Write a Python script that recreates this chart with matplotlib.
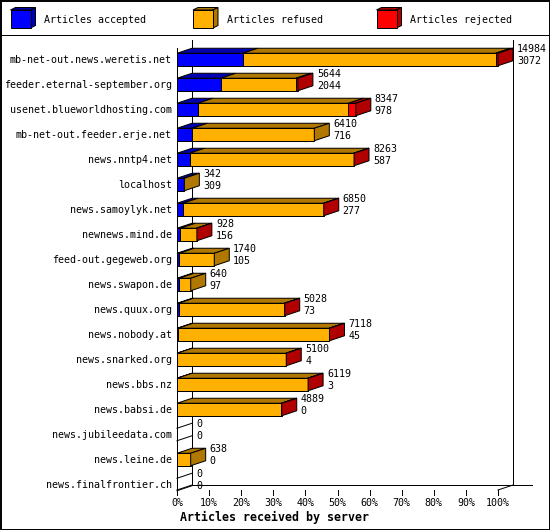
import numpy as np
import matplotlib.pyplot as plt

# Datos del gráfico (innreport: artículos recibidos por servidor)
servers = [
    "mb-net-out.news.weretis.net",
    "feeder.eternal-september.org",
    "usenet.blueworldhosting.com",
    "mb-net-out.feeder.erje.net",
    "news.nntp4.net",
    "localhost",
    "news.samoylyk.net",
    "newnews.mind.de",
    "feed-out.gegeweb.org",
    "news.swapon.de",
    "news.quux.org",
    "news.nobody.at",
    "news.snarked.org",
    "news.bbs.nz",
    "news.babsi.de",
    "news.jubileedata.com",
    "news.leine.de",
    "news.finalfrontier.ch",
]
total = [14984, 5644, 8347, 6410, 8263, 342, 6850, 928, 1740, 640,
         5028, 7118, 5100, 6119, 4889, 0, 638, 0]
accepted = [3072, 2044, 978, 716, 587, 309, 277, 156, 105, 97,
            73, 45, 4, 3, 0, 0, 0, 0]
rejected = [110, 90, 345, 0, 15, 0, 10, 15, 0, 0,
            15, 15, 15, 15, 15, 0, 0, 0]
refused = [t - a - r for t, a, r in zip(total, accepted, rejected)]

series_names = ["Articles accepted", "Articles refused", "Articles rejected"]
front_col = ["#0000ff", "#ffb000", "#ff0000"]
dark_col = ["#0000b0", "#b07800", "#b00000"]

W, H = 550, 530
x0_px, x1_px = 177, 498      # 0% y 100%
row0_px, row_step = 59.5, 25
top_px, floor_px = 40, 490

mono = "DejaVu Sans Mono"
fs = 7.2
lw = 0.72

fig = plt.figure(figsize=(W / 100, H / 100), dpi=100)
fig.patch.set_facecolor("white")

# capa de fondo en pixeles: marco y leyenda
bg = fig.add_axes([0, 0, 1, 1])
bg.set_xlim(0, W)
bg.set_ylim(H, 0)
bg.axis("off")
bg.plot([0.5, W - 0.5, W - 0.5, 0.5, 0.5], [0.5, 0.5, H - 0.5, H - 0.5, 0.5],
        color="black", lw=1.4, clip_on=False)
bg.plot([0, W], [35, 35], color="black", lw=lw)

leg_x = [10.5, 193, 376.5]
for k, name in enumerate(series_names):
    bx, by, bw, bh, ddx, ddy = leg_x[k], 10, 20, 18, 5, 2.5
    bg.fill([bx, bx + bw, bx + bw + ddx, bx + ddx], [by, by, by - ddy, by - ddy],
            facecolor=dark_col[k], edgecolor="black", lw=lw)
    bg.fill([bx + bw, bx + bw + ddx, bx + bw + ddx, bx + bw],
            [by, by - ddy, by + bh - ddy, by + bh],
            facecolor=dark_col[k], edgecolor="black", lw=lw)
    bg.fill([bx, bx + bw, bx + bw, bx], [by, by, by + bh, by + bh],
            facecolor=front_col[k], edgecolor="black", lw=lw)
    bg.text(bx + 34, 20, name, fontsize=fs, family=mono, ha="left", va="center")

# ejes principales: x en %, y en filas
ax = fig.add_axes([x0_px / W, (H - floor_px) / H,
                   (x1_px - x0_px) / W, (floor_px - top_px) / H])
ax.set_xlim(0, 100)
ax.set_ylim((floor_px - row0_px) / row_step, (top_px - row0_px) / row_step)
ax.axis("off")
ax.patch.set_alpha(0)

px_x = 100 / (x1_px - x0_px)
px_y = 1 / row_step
dx = 15 * px_x
dy = 5 * px_y
hh = 6.25 * px_y
y_floor = (floor_px - row0_px) / row_step
y_top = (top_px - row0_px) / row_step

# caja 3D: paredes traseras y suelo (detrás de las barras)
wall = dict(color="black", lw=lw, clip_on=False, zorder=0.5)
ax.plot([dx, dx], [y_top, y_floor - dy], **wall)
ax.plot([100 + dx, 100 + dx], [y_top, y_floor - dy], **wall)
ax.plot([dx, 110.6], [y_floor - dy, y_floor - dy], **wall)
ax.plot([0, dx], [y_floor, y_floor - dy], **wall)
ax.plot([100, 100 + dx], [y_floor, y_floor - dy], **wall)
ax.plot([0, 0], [(48 - row0_px) / row_step, y_floor + 5 * px_y],
        color="black", lw=lw, clip_on=False, zorder=3)

ticks = np.arange(0, 101, 10)
for t in ticks:
    ax.plot([t, t], [y_floor, y_floor + 5 * px_y], color="black", lw=lw, clip_on=False)
    ax.text(t, y_floor + 13 * px_y, f"{t}%", fontsize=fs, family=mono,
            ha="center", va="center", clip_on=False)
ax.text(3 * px_x, y_floor + 27 * px_y, "Articles received by server", fontsize=8.4,
        family=mono, weight="bold", ha="left", va="center", clip_on=False)

scale = 100 / max(total)
for i, name in enumerate(servers):
    ax.text(-5 * px_x, i, name, fontsize=fs, family=mono, ha="right", va="center")
    parts = [accepted[i], refused[i], rejected[i]]
    start = 0
    last = None
    for k, v in enumerate(parts):
        if v <= 0:
            continue
        a, b = start * scale, (start + v) * scale
        ax.fill([a, b, b + dx, a + dx], [i - hh, i - hh, i - hh - dy, i - hh - dy],
                facecolor=dark_col[k], edgecolor="black", lw=lw, clip_on=False, zorder=2)
        ax.fill([a, b, b, a], [i - hh, i - hh, i + hh, i + hh],
                facecolor=front_col[k], edgecolor="black", lw=lw, clip_on=False, zorder=2)
        start += v
        last = k
    end = total[i] * scale
    if last is not None:
        ax.fill([end, end + dx, end + dx, end],
                [i - hh, i - hh - dy, i + hh - dy, i + hh],
                facecolor=dark_col[last], edgecolor="black", lw=lw, clip_on=False, zorder=2)
    else:
        ax.plot([0, dx], [i - hh, i - hh - dy], color="black", lw=lw, clip_on=False)
        ax.plot([0, dx], [i + hh, i + hh - dy], color="black", lw=lw, clip_on=False)
    lx = end + dx + 4 * px_x
    ax.text(lx, i - 10.5 * px_y, str(total[i]), fontsize=fs, family=mono,
            ha="left", va="center", clip_on=False, zorder=4)
    ax.text(lx, i + 1.5 * px_y, str(accepted[i]), fontsize=fs, family=mono,
            ha="left", va="center", clip_on=False, zorder=4)

fig.savefig("out.png", dpi=100)
